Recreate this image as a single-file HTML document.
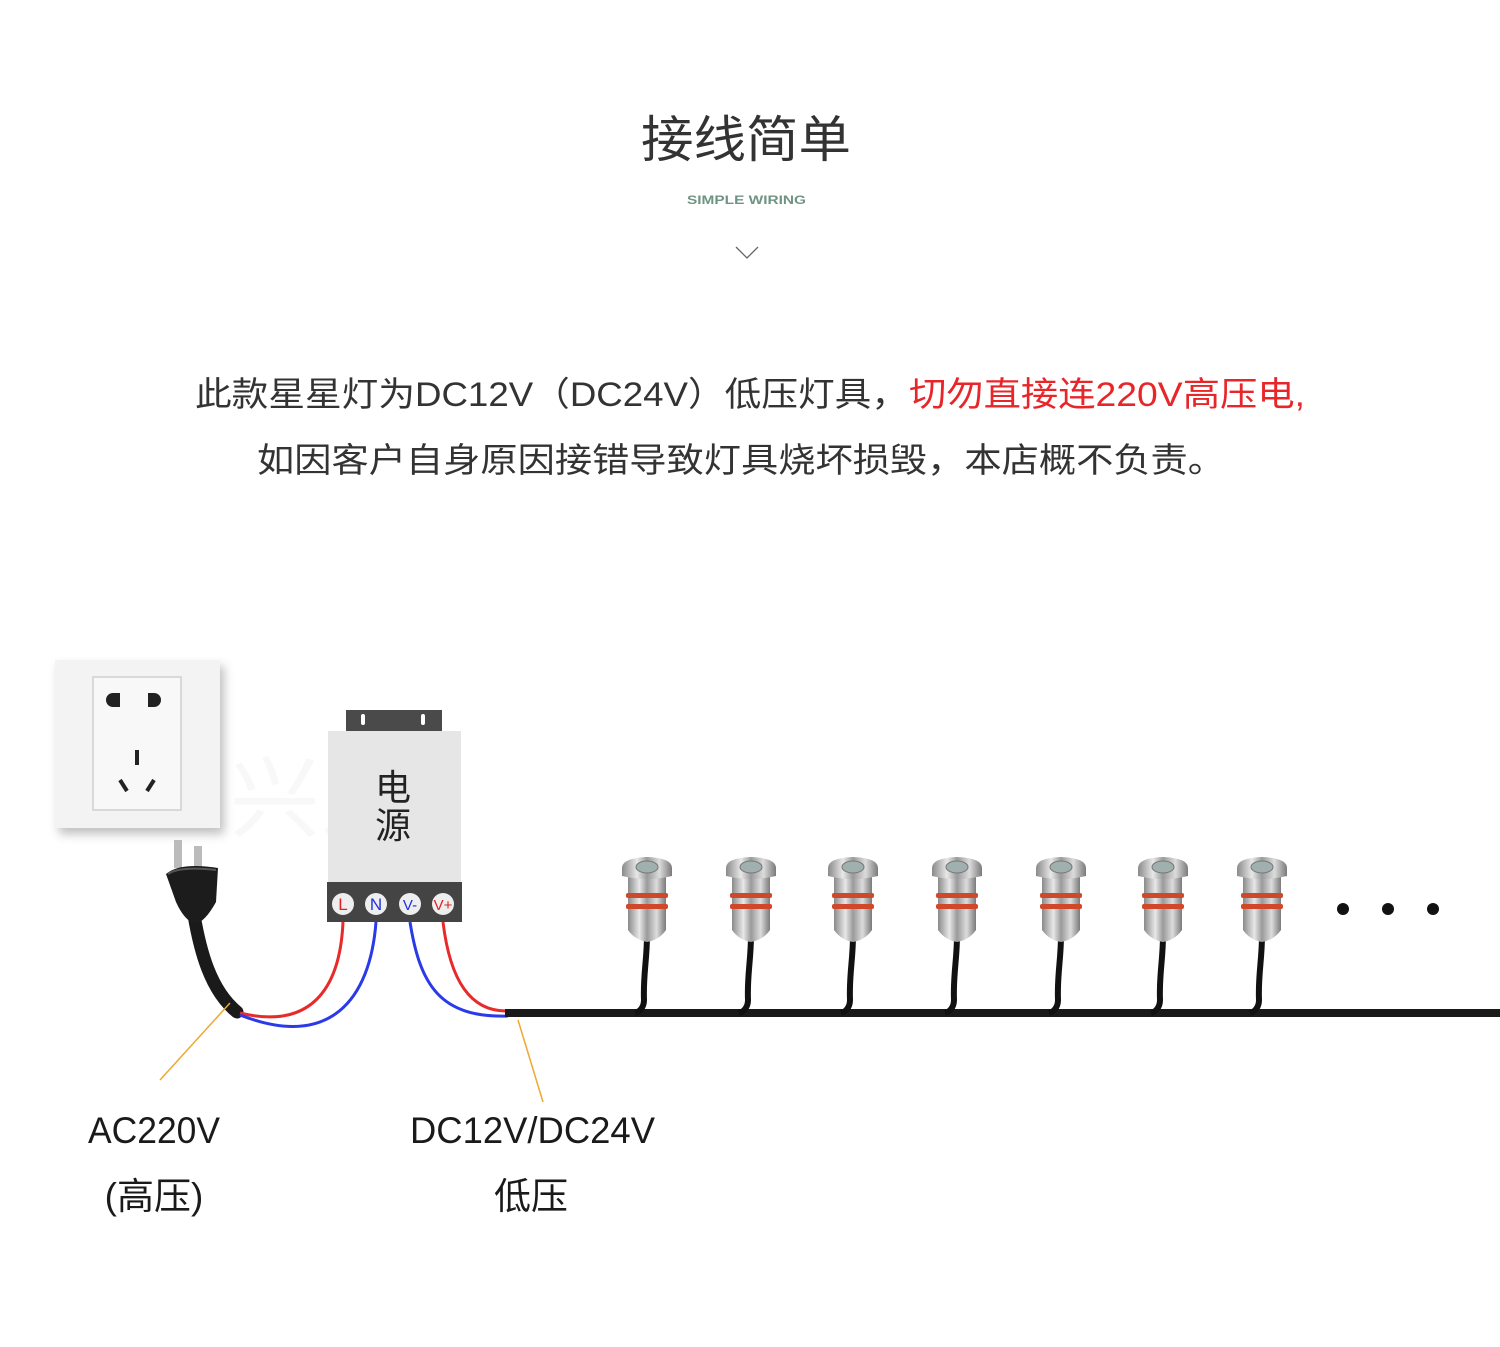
<!DOCTYPE html>
<html><head><meta charset="utf-8">
<style>
html,body{margin:0;padding:0;background:#fff;}
svg{display:block;}
text{font-family:"Liberation Sans","Noto Sans CJK SC",sans-serif;}
</style></head>
<body>
<svg width="1500" height="1347" viewBox="0 0 1500 1347" xmlns="http://www.w3.org/2000/svg">
<defs>
  <linearGradient id="steel" x1="0" x2="1" y1="0" y2="0">
    <stop offset="0" stop-color="#8a8a8a"/>
    <stop offset="0.3" stop-color="#e8e8e8"/>
    <stop offset="0.5" stop-color="#9a9a9a"/>
    <stop offset="0.75" stop-color="#dcdcdc"/>
    <stop offset="1" stop-color="#7a7a7a"/>
  </linearGradient>
  <filter id="sh" x="-20%" y="-20%" width="140%" height="140%">
    <feDropShadow dx="4" dy="6" stdDeviation="5" flood-color="#000" flood-opacity="0.25"/>
  </filter>
  <g id="lamp">
    <path d="M0 935 C0 960 -4 975 -3 1000 C-3 1008 -8 1012 -12 1013" stroke="#111" stroke-width="6" fill="none"/>
    <path d="M-19 875 L19 875 L19 930 Q12 940 0 942 Q-12 940 -19 930 Z" fill="url(#steel)"/>
    <rect x="-21" y="893" width="42" height="5" rx="2" fill="#d0482a"/>
    <rect x="-21" y="904" width="42" height="5" rx="2" fill="#d0482a"/>
    <path d="M-25 868 Q-25 858 0 857 Q25 858 25 868 L25 876 Q0 882 -25 876 Z" fill="url(#steel)"/>
    <ellipse cx="0" cy="867" rx="11" ry="6" fill="#9fb0ae" stroke="#777" stroke-width="1"/>
  </g>
</defs>

<text x="746" y="157" font-size="50" fill="#333" text-anchor="middle" textLength="210" lengthAdjust="spacingAndGlyphs">接线简单</text>
<text x="687" y="204" font-size="12" fill="#6f9484" textLength="119" lengthAdjust="spacingAndGlyphs" font-weight="bold">SIMPLE WIRING</text>
<polyline points="736,247 747,258 758,247" fill="none" stroke="#666" stroke-width="1.3"/>

<text x="195" y="406" font-size="34" fill="#333" textLength="713" lengthAdjust="spacingAndGlyphs">此款星星灯为DC12V（DC24V）低压灯具，</text>
<text x="909" y="406" font-size="34" fill="#e8262a" textLength="396" lengthAdjust="spacingAndGlyphs">切勿直接连220V高压电,</text>
<text x="257" y="472" font-size="34" fill="#333" textLength="968" lengthAdjust="spacingAndGlyphs">如因客户自身原因接错导致灯具烧坏损毁，本店概不负责。</text>

<rect x="55" y="660" width="165" height="168" fill="#f3f3f3" filter="url(#sh)"/>
<rect x="93" y="677" width="88" height="133" fill="#f8f8f8" stroke="#cfcfcf" stroke-width="1.5"/>
<path d="M113 693 h7 v14 h-7 a7 7 0 0 1 0 -14z" fill="#222"/>
<path d="M154 693 h-6 v14 h6 a7 7 0 0 0 0 -14z" fill="#222"/>
<rect x="135" y="750" width="4" height="15" fill="#222"/>
<line x1="120" y1="780" x2="127" y2="791" stroke="#222" stroke-width="4"/>
<line x1="154" y1="780" x2="147" y2="791" stroke="#222" stroke-width="4"/>

<text x="230" y="830" font-size="90" fill="#000" opacity="0.025">兴之</text>

<rect x="346" y="710" width="96" height="21" fill="#4a4a4a"/>
<rect x="361" y="714" width="4" height="11" rx="2" fill="#fff"/>
<rect x="421" y="714" width="4" height="11" rx="2" fill="#fff"/>
<rect x="328" y="731" width="133" height="151" fill="#e6e6e6"/>
<text x="393" y="800" font-size="36" fill="#222" text-anchor="middle">电</text>
<text x="393" y="838" font-size="36" fill="#222" text-anchor="middle">源</text>
<rect x="327" y="882" width="135" height="40" fill="#444"/>
<g font-size="17" text-anchor="middle">
  <circle cx="343" cy="904" r="11" fill="#eee"/><text x="343" y="910" fill="#e02020">L</text>
  <circle cx="376" cy="904" r="11" fill="#eee"/><text x="376" y="910" fill="#2030e0">N</text>
  <circle cx="410" cy="904" r="11" fill="#eee"/><text x="410" y="910" fill="#2030e0" font-size="15">V-</text>
  <circle cx="443" cy="904" r="11" fill="#eee"/><text x="443" y="910" fill="#e02020" font-size="15">V+</text>
</g>

<path d="M194 915 C200 950 210 990 237 1012" stroke="#1a1a1a" stroke-width="13" fill="none" stroke-linecap="round"/>
<rect x="174" y="840" width="8" height="28" fill="#bbb"/>
<rect x="194" y="846" width="8" height="28" fill="#bbb"/>
<path d="M166 874 Q180 862 218 868 L216 902 Q205 922 195 924 Q184 920 176 902 Z" fill="#1c1c1c"/>
<path d="M168 874 Q180 866 216 870" stroke="#555" stroke-width="2" fill="none"/>

<path d="M343 922 C340 990 310 1030 240 1013" stroke="#e82a2a" stroke-width="3" fill="none"/>
<path d="M376 922 C370 1000 330 1050 240 1015" stroke="#2a3ae8" stroke-width="3" fill="none"/>
<path d="M410 922 C420 985 440 1018 508 1016" stroke="#2a3ae8" stroke-width="3" fill="none"/>
<path d="M443 922 C450 980 470 1012 508 1011" stroke="#e82a2a" stroke-width="3" fill="none"/>

<rect x="505" y="1009" width="995" height="8" fill="#1a1a1a"/>

<use href="#lamp" x="647"/>
<use href="#lamp" x="751"/>
<use href="#lamp" x="853"/>
<use href="#lamp" x="957"/>
<use href="#lamp" x="1061"/>
<use href="#lamp" x="1163"/>
<use href="#lamp" x="1262"/>

<circle cx="1343" cy="909" r="6" fill="#111"/>
<circle cx="1388" cy="909" r="6" fill="#111"/>
<circle cx="1433" cy="909" r="6" fill="#111"/>

<line x1="230" y1="1003" x2="160" y2="1080" stroke="#f0a830" stroke-width="1.5"/>
<line x1="518" y1="1020" x2="543" y2="1102" stroke="#f0a830" stroke-width="1.5"/>

<text x="88" y="1143" font-size="37" fill="#1a1a1a" textLength="132" lengthAdjust="spacingAndGlyphs">AC220V</text>
<text x="154" y="1209" font-size="37" fill="#1a1a1a" text-anchor="middle">(高压)</text>
<text x="410" y="1143" font-size="37" fill="#1a1a1a" textLength="245" lengthAdjust="spacingAndGlyphs">DC12V/DC24V</text>
<text x="531" y="1209" font-size="37" fill="#1a1a1a" text-anchor="middle">低压</text>
</svg>
</body></html>
